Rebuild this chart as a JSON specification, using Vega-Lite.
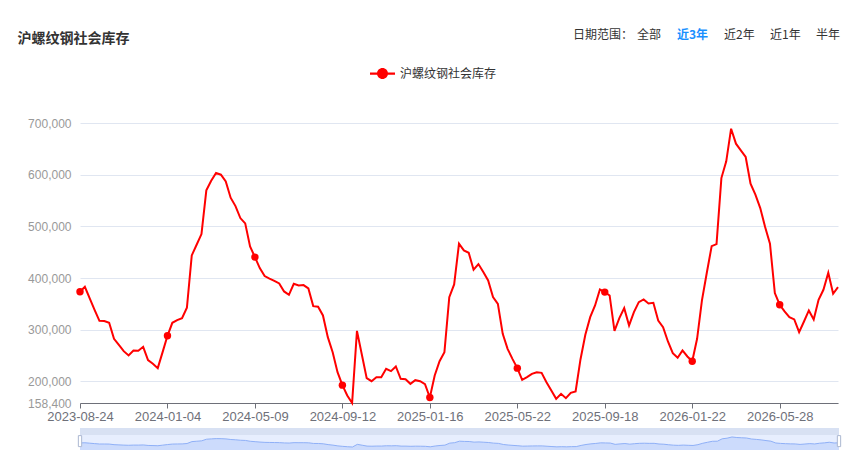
{
  "$schema": "https://vega.github.io/schema/vega-lite/v6.json",
  "background": "white",
  "padding": {"left": 17, "top": 29, "right": 10, "bottom": 10},
  "title": {
    "text": "沪螺纹钢社会库存",
    "anchor": "start",
    "frame": "bounds",
    "font": "Noto Sans CJK SC",
    "fontSize": 14,
    "fontWeight": "bold",
    "color": "#333333",
    "dx": -10,
    "offset": -17
  },
  "config": {"view": {"stroke": null}, "font": "Liberation Sans"},
  "bounds": "flush",
  "spacing": 25,
  "resolve": {"scale": {"x": "independent", "y": "independent", "color": "independent", "shape": "independent"}},
  "datasets": {
    "stock": [
      {"date": "2023-08-24", "value": 373500},
      {"date": "2023-08-31", "value": 383000},
      {"date": "2023-09-07", "value": 360600},
      {"date": "2023-09-14", "value": 338700},
      {"date": "2023-09-21", "value": 317400},
      {"date": "2023-09-28", "value": 316800},
      {"date": "2023-10-12", "value": 313500},
      {"date": "2023-10-19", "value": 282600},
      {"date": "2023-10-26", "value": 270900},
      {"date": "2023-11-02", "value": 258700},
      {"date": "2023-11-09", "value": 250300},
      {"date": "2023-11-16", "value": 260000},
      {"date": "2023-11-23", "value": 259500},
      {"date": "2023-11-30", "value": 267100},
      {"date": "2023-12-07", "value": 241300},
      {"date": "2023-12-14", "value": 234200},
      {"date": "2023-12-21", "value": 225800},
      {"date": "2023-12-28", "value": 256800},
      {"date": "2024-01-04", "value": 288400},
      {"date": "2024-01-11", "value": 313500},
      {"date": "2024-01-18", "value": 318700},
      {"date": "2024-01-25", "value": 322600},
      {"date": "2024-02-01", "value": 342600},
      {"date": "2024-02-08", "value": 443900},
      {"date": "2024-02-15", "value": 464500},
      {"date": "2024-02-22", "value": 485100},
      {"date": "2024-02-29", "value": 569700},
      {"date": "2024-03-07", "value": 588400},
      {"date": "2024-03-14", "value": 603200},
      {"date": "2024-03-21", "value": 600000},
      {"date": "2024-03-28", "value": 587100},
      {"date": "2024-04-04", "value": 555500},
      {"date": "2024-04-11", "value": 539300},
      {"date": "2024-04-18", "value": 516100},
      {"date": "2024-04-25", "value": 505800},
      {"date": "2024-05-02", "value": 461300},
      {"date": "2024-05-09", "value": 440600},
      {"date": "2024-05-16", "value": 419300},
      {"date": "2024-05-23", "value": 403900},
      {"date": "2024-05-30", "value": 399000},
      {"date": "2024-06-06", "value": 394800},
      {"date": "2024-06-13", "value": 389700},
      {"date": "2024-06-20", "value": 374200},
      {"date": "2024-06-27", "value": 367700},
      {"date": "2024-07-04", "value": 389000},
      {"date": "2024-07-11", "value": 385800},
      {"date": "2024-07-18", "value": 386400},
      {"date": "2024-07-25", "value": 380000},
      {"date": "2024-08-01", "value": 345800},
      {"date": "2024-08-08", "value": 344500},
      {"date": "2024-08-15", "value": 327700},
      {"date": "2024-08-22", "value": 285800},
      {"date": "2024-08-29", "value": 256700},
      {"date": "2024-09-05", "value": 218000},
      {"date": "2024-09-12", "value": 192900},
      {"date": "2024-09-19", "value": 172900},
      {"date": "2024-09-26", "value": 158400},
      {"date": "2024-10-03", "value": 298000},
      {"date": "2024-10-10", "value": 252200},
      {"date": "2024-10-17", "value": 206400},
      {"date": "2024-10-24", "value": 200600},
      {"date": "2024-10-31", "value": 208400},
      {"date": "2024-11-07", "value": 208400},
      {"date": "2024-11-14", "value": 224500},
      {"date": "2024-11-21", "value": 220000},
      {"date": "2024-11-28", "value": 229000},
      {"date": "2024-12-05", "value": 205100},
      {"date": "2024-12-12", "value": 204500},
      {"date": "2024-12-19", "value": 195500},
      {"date": "2024-12-26", "value": 202600},
      {"date": "2025-01-02", "value": 200600},
      {"date": "2025-01-09", "value": 194800},
      {"date": "2025-01-16", "value": 169000},
      {"date": "2025-01-23", "value": 211600},
      {"date": "2025-01-30", "value": 239300},
      {"date": "2025-02-06", "value": 256700},
      {"date": "2025-02-13", "value": 363200},
      {"date": "2025-02-20", "value": 387700},
      {"date": "2025-02-27", "value": 466400},
      {"date": "2025-03-06", "value": 453500},
      {"date": "2025-03-13", "value": 449000},
      {"date": "2025-03-20", "value": 416100},
      {"date": "2025-03-27", "value": 427100},
      {"date": "2025-04-03", "value": 411600},
      {"date": "2025-04-10", "value": 395500},
      {"date": "2025-04-17", "value": 363200},
      {"date": "2025-04-24", "value": 350300},
      {"date": "2025-05-01", "value": 292200},
      {"date": "2025-05-08", "value": 263200},
      {"date": "2025-05-15", "value": 243800},
      {"date": "2025-05-22", "value": 225800},
      {"date": "2025-05-29", "value": 203200},
      {"date": "2025-06-05", "value": 208400},
      {"date": "2025-06-12", "value": 214800},
      {"date": "2025-06-19", "value": 218000},
      {"date": "2025-06-26", "value": 216700},
      {"date": "2025-07-03", "value": 198700},
      {"date": "2025-07-10", "value": 182600},
      {"date": "2025-07-17", "value": 166400},
      {"date": "2025-07-24", "value": 176100},
      {"date": "2025-07-31", "value": 167700},
      {"date": "2025-08-07", "value": 178000},
      {"date": "2025-08-14", "value": 180600},
      {"date": "2025-08-21", "value": 242600},
      {"date": "2025-08-28", "value": 290300},
      {"date": "2025-09-04", "value": 324500},
      {"date": "2025-09-11", "value": 347100},
      {"date": "2025-09-15", "value": 378000},
      {"date": "2025-09-18", "value": 372900},
      {"date": "2025-09-25", "value": 366400},
      {"date": "2025-10-02", "value": 298000},
      {"date": "2025-10-09", "value": 322600},
      {"date": "2025-10-16", "value": 341900},
      {"date": "2025-10-23", "value": 308400},
      {"date": "2025-10-30", "value": 334200},
      {"date": "2025-11-06", "value": 353500},
      {"date": "2025-11-13", "value": 358700},
      {"date": "2025-11-20", "value": 351000},
      {"date": "2025-11-27", "value": 352200},
      {"date": "2025-12-04", "value": 318000},
      {"date": "2025-12-11", "value": 305100},
      {"date": "2025-12-18", "value": 277400},
      {"date": "2025-12-25", "value": 254800},
      {"date": "2026-01-01", "value": 245800},
      {"date": "2026-01-08", "value": 260000},
      {"date": "2026-01-15", "value": 248400},
      {"date": "2026-01-22", "value": 239300},
      {"date": "2026-01-29", "value": 282600},
      {"date": "2026-02-05", "value": 356800},
      {"date": "2026-02-12", "value": 410300},
      {"date": "2026-02-19", "value": 461900},
      {"date": "2026-02-26", "value": 465800},
      {"date": "2026-03-05", "value": 593500},
      {"date": "2026-03-12", "value": 625800},
      {"date": "2026-03-19", "value": 689000},
      {"date": "2026-03-26", "value": 660000},
      {"date": "2026-04-02", "value": 647100},
      {"date": "2026-04-09", "value": 634200},
      {"date": "2026-04-16", "value": 582600},
      {"date": "2026-04-23", "value": 561300},
      {"date": "2026-04-30", "value": 535500},
      {"date": "2026-05-07", "value": 498700},
      {"date": "2026-05-14", "value": 466400},
      {"date": "2026-05-21", "value": 371000},
      {"date": "2026-05-28", "value": 348500},
      {"date": "2026-06-04", "value": 335500},
      {"date": "2026-06-11", "value": 324500},
      {"date": "2026-06-18", "value": 320000},
      {"date": "2026-06-25", "value": 295500},
      {"date": "2026-07-02", "value": 316100},
      {"date": "2026-07-09", "value": 337400},
      {"date": "2026-07-16", "value": 320000},
      {"date": "2026-07-23", "value": 358000},
      {"date": "2026-07-30", "value": 377400},
      {"date": "2026-08-06", "value": 410300},
      {"date": "2026-08-13", "value": 369700},
      {"date": "2026-08-20", "value": 382600}
    ],
    "ranges": [
      {"range": "全部"},
      {"range": "近3年"},
      {"range": "近2年"},
      {"range": "近1年"},
      {"range": "半年"}
    ]
  },
  "vconcat": [
    {
      "width": 758,
      "height": 280,
      "layer": [
        {
          "data": {"name": "stock"},
          "mark": {"type": "line", "color": "#ff0000", "strokeWidth": 2},
          "encoding": {
            "x": {
              "field": "date",
              "type": "ordinal",
              "scale": {"type": "point", "padding": 0},
              "axis": {
                "values": ["2023-08-24", "2024-01-04", "2024-05-09", "2024-09-12", "2025-01-16", "2025-05-22", "2025-09-18", "2026-01-22", "2026-05-28"],
                "title": null,
                "labelAngle": 0,
                "labelOverlap": false,
                "labelColor": "#6E7079",
                "labelFontSize": 13,
                "labelPadding": 2,
                "tickColor": "#6E7079",
                "tickSize": 5,
                "domainColor": "#6E7079",
                "grid": false
              }
            },
            "y": {
              "field": "value",
              "type": "quantitative",
              "scale": {"domain": [158400, 700000], "nice": false, "zero": false},
              "axis": {
                "values": [158400, 200000, 300000, 400000, 500000, 600000, 700000],
                "format": ",.0f",
                "title": null,
                "domain": false,
                "ticks": false,
                "labelColor": "#999999",
                "labelFontSize": 12,
                "labelPadding": 9,
                "gridColor": "#E0E6F1"
              }
            }
          }
        },
        {
          "data": {"name": "stock"},
          "transform": [
            {"filter": {"field": "date", "oneOf": ["2023-08-24", "2024-01-04", "2024-05-09", "2024-09-12", "2025-01-16", "2025-05-22", "2025-09-18", "2026-01-22", "2026-05-28"]}}
          ],
          "mark": {"type": "point", "filled": true, "size": 55, "opacity": 1},
          "encoding": {
            "x": {"field": "date", "type": "ordinal"},
            "y": {"field": "value", "type": "quantitative"},
            "color": {
              "datum": "沪螺纹钢社会库存",
              "scale": {"range": ["#ff0000"]},
              "legend": {
                "orient": "none",
                "legendX": 290,
                "legendY": -62,
                "title": null,
                "symbolType": "M-1,-0.09L1,-0.09L1,0.09L-1,0.09Z M0.44,0 A0.44,0.44 0 1,1 -0.44,0 A0.44,0.44 0 1,1 0.44,0 Z",
                "symbolSize": 625,
                "symbolStrokeWidth": 0,
                "symbolOpacity": 1,
                "labelFont": "Noto Sans CJK SC",
                "labelFontSize": 12,
                "labelColor": "#333333",
                "labelOffset": 5
              }
            }
          }
        },
        {
          "data": {"name": "ranges"},
          "mark": {"type": "point", "opacity": 0, "size": 0},
          "encoding": {
            "shape": {
              "field": "range",
              "type": "nominal",
              "sort": null,
              "legend": {
                "orient": "none",
                "legendX": 493,
                "legendY": -94,
                "direction": "horizontal",
                "title": "日期范围：",
                "titleOrient": "left",
                "titleFont": "Noto Sans CJK SC",
                "titleFontSize": 12,
                "titleFontWeight": "normal",
                "titleColor": "#333333",
                "titlePadding": -9,
                "labelFont": "Noto Sans CJK SC",
                "labelFontSize": 12,
                "labelColor": {"expr": "(datum.value === '近3年' || datum.label === '近3年') ? '#1890ff' : '#333333'"},
                "labelFontWeight": {"expr": "(datum.value === '近3年' || datum.label === '近3年') ? 'bold' : 'normal'"},
                "labelOffset": 0,
                "symbolSize": 0.01,
                "symbolOpacity": 0,
                "symbolStrokeWidth": 0,
                "columnPadding": 3
              }
            }
          }
        }
      ]
    },
    {
      "width": 759,
      "height": 22,
      "view": {"fill": "#e7eefe", "stroke": null},
      "layer": [
        {
          "data": {"values": [{}]},
          "mark": {"type": "rect", "color": "#d2dbee", "opacity": 0.7},
          "encoding": {
            "y": {"datum": 795000, "type": "quantitative", "scale": {"domain": [0, 1164000], "nice": false}, "axis": null},
            "y2": {"datum": 1164000}
          }
        },
        {
          "data": {"name": "stock"},
          "mark": {"type": "area", "color": "#8fb0f7", "opacity": 0.3, "line": {"color": "#8fb0f7", "strokeWidth": 1}},
          "encoding": {
            "x": {"field": "date", "type": "ordinal", "scale": {"type": "point", "padding": 0}, "axis": null},
            "y": {"field": "value", "type": "quantitative"}
          }
        },
        {
          "data": {"name": "stock"},
          "transform": [
            {"filter": {"field": "date", "oneOf": ["2023-08-24", "2026-08-20"]}}
          ],
          "mark": {
            "type": "point",
            "shape": "M-0.3,-1L0.3,-1L0.3,1L-0.3,1Z",
            "size": 121,
            "filled": true,
            "fill": "#ffffff",
            "stroke": "#acb8d1",
            "strokeWidth": 1,
            "opacity": 1
          },
          "encoding": {
            "x": {"field": "date", "type": "ordinal"},
            "y": {"datum": 470000, "type": "quantitative"}
          }
        }
      ]
    }
  ]
}
